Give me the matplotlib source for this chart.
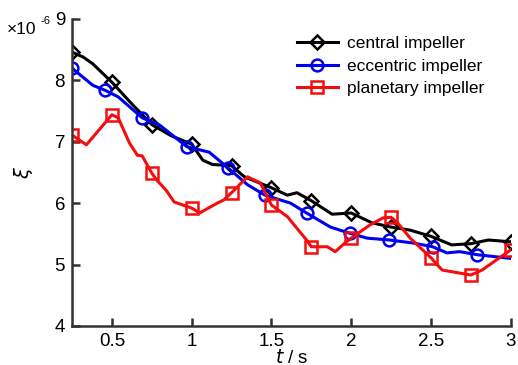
import numpy as np
import matplotlib
matplotlib.use("Agg")
from matplotlib import pyplot as plt

plt.rcParams['font.family'] = ['Liberation Sans', 'DejaVu Sans']

# central impeller
t_central = [0.25, 0.32, 0.38, 0.5, 0.62, 0.75, 0.87, 1.0, 1.07, 1.13, 1.25, 1.33, 1.5,
             1.6, 1.66, 1.75, 1.88, 2.0, 2.13, 2.25, 2.37, 2.5, 2.63, 2.75, 2.86, 3.0]
xi_central = [8.46, 8.38, 8.27, 7.97, 7.63, 7.28, 7.10, 6.96, 6.70, 6.63, 6.61, 6.43, 6.25,
              6.13, 6.17, 6.04, 5.82, 5.84, 5.68, 5.61, 5.56, 5.46, 5.32, 5.34, 5.40, 5.37]
mk_central = [0, 3, 5, 7, 10, 12, 15, 17, 19, 21, 23, 25]

# eccentric impeller
t_eccentric = [0.25, 0.38, 0.456, 0.54, 0.69, 0.80, 0.97, 1.11, 1.23, 1.35, 1.46, 1.62,
               1.72, 1.87, 1.99, 2.10, 2.24, 2.39, 2.51, 2.60, 2.68, 2.79, 3.0]
xi_eccentric = [8.20, 7.92, 7.84, 7.73, 7.39, 7.27, 6.92, 6.83, 6.57, 6.30, 6.13, 6.00,
                5.84, 5.61, 5.51, 5.43, 5.40, 5.35, 5.29, 5.19, 5.21, 5.16, 5.10]
mk_eccentric = [0, 2, 4, 6, 8, 10, 12, 14, 16, 18, 21]

# planetary impeller
t_planetary = [0.25, 0.34, 0.5, 0.54, 0.61, 0.66, 0.69, 0.75, 0.78, 0.84, 0.89, 1.0, 1.05,
               1.16, 1.20, 1.25, 1.35, 1.43, 1.5, 1.60, 1.72, 1.75, 1.85, 1.90, 1.96, 2.0,
               2.12, 2.20, 2.25, 2.29, 2.37, 2.5, 2.57, 2.75, 2.82, 3.0]
xi_planetary = [7.11, 6.95, 7.44, 7.39, 6.98, 6.78, 6.77, 6.49, 6.38, 6.21, 6.02, 5.92, 5.84,
                6.00, 6.05, 6.17, 6.43, 6.33, 5.97, 5.78, 5.40, 5.29, 5.29, 5.21, 5.35, 5.43,
                5.65, 5.76, 5.77, 5.68, 5.43, 5.11, 4.91, 4.83, 4.91, 5.24]
mk_planetary = [0, 2, 7, 11, 15, 18, 21, 25, 28, 31, 33, 35]

xticks = [0.5, 1, 1.5, 2, 2.5, 3]
yticks = [4, 5, 6, 7, 8, 9]

fig = plt.figure(figsize=(5.18, 3.65), dpi=100)
ax = fig.add_axes([0.139, 0.107, 0.847, 0.841])

style = dict(lw=2.2, ms=8.5, mew=1.8, mfc='none')
ax.plot(t_central, xi_central, color='black', marker='D', markevery=mk_central,
        label='central impeller', **dict(style, ms=7.5))
ax.plot(t_eccentric, xi_eccentric, color='#0000f0', marker='o', markevery=mk_eccentric,
        label='eccentric impeller', **style)
ax.plot(t_planetary, xi_planetary, color='#f50d0d', marker='s', markevery=mk_planetary,
        label='planetary impeller', **dict(style, ms=8))

ax.set_xlim(0.25, 3)
ax.set_ylim(4, 9)
ax.set_xticks(xticks)
ax.set_xticklabels(['0.5', '1', '1.5', '2', '2.5', '3'])
ax.set_yticks(yticks)

for s in ['top', 'right']:
    ax.spines[s].set_visible(False)
for s in ['left', 'bottom']:
    ax.spines[s].set_color('#333333')
    ax.spines[s].set_linewidth(1.8)
ax.tick_params(direction='in', length=6, width=1.8, color='#333333',
               labelsize=13.5, pad=5)

ax.set_xlabel('$t$ / s', fontsize=13.5, labelpad=-1)
ax.set_ylabel(r'$\xi$', fontsize=14, labelpad=14)

# scale factor of the y axis, written as in the source figure
fig.text(0.014, 0.907, '\u00d710', fontsize=12.5, va='baseline')
fig.text(0.078, 0.935, '-6', fontsize=8, va='baseline')

ax.legend(loc='upper right', bbox_to_anchor=(0.975, 0.995), frameon=False, fontsize=12.5,
          handlelength=2.4, handletextpad=0.5, labelspacing=0.42)

fig.savefig('out.png', dpi=100)
